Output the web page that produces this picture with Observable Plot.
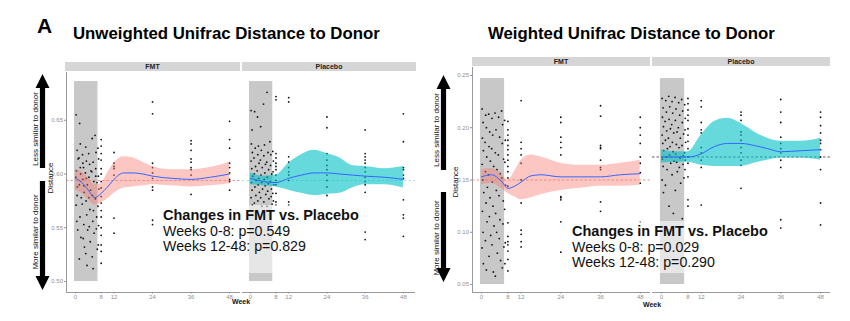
<!DOCTYPE html>
<html>
<head>
<meta charset="utf-8">
<script src="https://cdn.jsdelivr.net/npm/d3@7"></script>
<script src="https://cdn.jsdelivr.net/npm/@observablehq/plot@0.6"></script>
<style>
  html, body { margin: 0; padding: 0; background: #fff; }
  #root { position: relative; width: 850px; height: 321px; overflow: hidden; font-family: "Liberation Sans", Arial, sans-serif; }
  .abs { position: absolute; }
  .title { position: absolute; font-weight: bold; font-size: 16.8px; color: #000; white-space: nowrap; line-height: 1; }
  .strip { position: absolute; background: #d6d6d6; font-weight: bold; font-size: 7px; text-align: center; color: #222; }
  .vtext { position: absolute; transform: translate(-50%, -50%) rotate(-90deg); white-space: nowrap; font-size: 8px; color: #111; }
  .note { position: absolute; white-space: nowrap; font-size: 14.2px; line-height: 15.5px; color: #111; }
  .note b { font-size: 14.5px; }
  .week { position: absolute; font-weight: bold; font-size: 7px; color: #111; }
</style>
</head>
<body>
<div id="root"></div>
<script>
// ---------- data ----------
const facets = ["FMT", "Placebo"];
const weekTicks = [0, 8, 12, 24, 36, 48];
const uwYTicks = [0.50, 0.55, 0.60, 0.65];
const wYTicks = [0.05, 0.10, 0.15, 0.20, 0.25];
const treatmentWindow = [-0.3, 7];

// Unweighted UniFrac – FMT points [week, distance]
const uwFmtPoints = [
  [0.2,0.655],[0.5,0.622],[0.3,0.603],[0.6,0.588],[0.2,0.571],[0.4,0.556],[0.7,0.548],[0.1,0.597],[0.8,0.614],[0.5,0.580],
  [1.3,0.647],[1.5,0.628],[1.1,0.615],[1.6,0.600],[1.2,0.590],[1.8,0.578],[1.4,0.560],[1.7,0.541],[1.2,0.521],[1.5,0.606],
  [2.2,0.618],[2.5,0.606],[2.3,0.595],[2.7,0.583],[2.1,0.572],[2.6,0.553],[2.4,0.540],[2.8,0.532],[2.3,0.610],[2.6,0.589],
  [3.2,0.625],[3.4,0.612],[3.1,0.601],[3.7,0.590],[3.3,0.575],[3.5,0.562],[3.8,0.548],[3.2,0.526],[3.6,0.515],[3.4,0.596],
  [4.1,0.619],[4.4,0.609],[4.2,0.597],[4.7,0.585],[4.5,0.567],[4.3,0.551],[4.6,0.537],[4.8,0.603],[4.2,0.578],
  [5.2,0.633],[5.5,0.611],[5.1,0.602],[5.7,0.593],[5.3,0.580],[5.6,0.566],[5.4,0.556],[5.8,0.545],[5.2,0.523],[5.5,0.512],
  [6.1,0.636],[6.4,0.620],[6.3,0.605],[6.7,0.592],[6.2,0.577],[6.6,0.560],[6.5,0.549],[6.8,0.530],[6.3,0.598],
  [7.0,0.624],[7.2,0.614],[7.1,0.598],[7.3,0.586],[7.0,0.570],[7.2,0.552],[7.1,0.534],
  [8,0.632],[8,0.626],[8,0.619],[8,0.613],[8,0.605],[8,0.600],[8,0.593],[8,0.587],[8,0.579],[8,0.573],[8,0.566],[8,0.560],[8,0.550],[8,0.543],[8,0.534],[8,0.528],[8,0.517],
  [12,0.620],[12,0.610],[12,0.607],[12,0.605],[12,0.599],[12,0.559],[12,0.545],
  [24,0.667],[24,0.656],[24,0.610],[24,0.606],[24,0.601],[24,0.596],[24,0.588],[24,0.585],[24,0.557],[24,0.553],
  [36,0.631],[36,0.628],[36,0.622],[36,0.614],[36,0.611],[36,0.606],[36,0.604],[36,0.599],[36,0.581],
  [48,0.649],[48,0.632],[48,0.624],[48,0.610],[48,0.606],[48,0.601],[48,0.595],[48,0.593],[48,0.585]
];
// Unweighted UniFrac – Placebo points
const uwPlaPoints = [
  [0.2,0.659],[0.5,0.641],[0.3,0.628],[0.6,0.620],[0.2,0.612],[0.4,0.605],[0.7,0.598],[0.3,0.592],[0.5,0.585],[0.2,0.578],[0.6,0.571],
  [1.3,0.658],[1.5,0.624],[1.1,0.615],[1.6,0.607],[1.2,0.600],[1.8,0.594],[1.4,0.588],[1.7,0.580],[1.2,0.573],
  [2.2,0.653],[2.5,0.626],[2.3,0.618],[2.7,0.610],[2.1,0.603],[2.6,0.596],[2.4,0.590],[2.8,0.583],[2.3,0.575],
  [3.2,0.644],[3.4,0.622],[3.1,0.613],[3.7,0.606],[3.3,0.599],[3.5,0.592],[3.8,0.586],[3.2,0.578],[3.6,0.570],
  [4.1,0.665],[4.4,0.627],[4.2,0.617],[4.7,0.609],[4.5,0.601],[4.3,0.595],[4.6,0.589],[4.8,0.581],[4.2,0.574],
  [5.2,0.676],[5.5,0.620],[5.1,0.611],[5.7,0.604],[5.3,0.597],[5.6,0.591],[5.4,0.584],[5.8,0.577],[5.2,0.570],
  [6.1,0.630],[6.4,0.618],[6.3,0.608],[6.7,0.600],[6.2,0.593],[6.6,0.586],[6.5,0.579],[6.8,0.572],
  [7.0,0.621],[7.2,0.612],[7.1,0.602],[7.3,0.590],[7.0,0.582],[7.2,0.575],
  [8,0.672],[8,0.669],[8,0.619],[8,0.615],[8,0.610],[8,0.607],[8,0.604],[8,0.599],[8,0.594],[8,0.590],[8,0.582],[8,0.574],[8,0.571],
  [12,0.671],[12,0.667],[12,0.616],[12,0.611],[12,0.606],[12,0.602],[12,0.599],[12,0.594],[12,0.574],[12,0.571],
  [24,0.653],[24,0.643],[24,0.619],[24,0.613],[24,0.608],[24,0.604],[24,0.599],[24,0.594],[24,0.588],[24,0.580],
  [36,0.641],[36,0.619],[36,0.616],[36,0.613],[36,0.610],[36,0.606],[36,0.602],[36,0.597],[36,0.593],[36,0.590],[36,0.583],[36,0.546],[36,0.539],
  [48,0.656],[48,0.630],[48,0.606],[48,0.604],[48,0.599],[48,0.596],[48,0.576],[48,0.562],[48,0.559],[48,0.542]
];
// Weighted UniFrac – FMT points
const wFmtPoints = [
  [0.2,0.218],[0.5,0.205],[0.3,0.190],[0.6,0.178],[0.2,0.165],[0.4,0.150],[0.7,0.138],[0.3,0.120],[0.5,0.100],[0.2,0.085],[0.6,0.070],
  [1.3,0.212],[1.5,0.200],[1.1,0.186],[1.6,0.172],[1.2,0.158],[1.8,0.143],[1.4,0.128],[1.7,0.110],[1.2,0.092],[1.5,0.064],
  [2.2,0.213],[2.5,0.196],[2.3,0.182],[2.7,0.168],[2.1,0.155],[2.6,0.133],[2.4,0.115],[2.8,0.097],[2.3,0.077],
  [3.2,0.209],[3.4,0.193],[3.1,0.180],[3.7,0.163],[3.3,0.148],[3.5,0.125],[3.8,0.106],[3.2,0.088],[3.6,0.062],
  [4.1,0.214],[4.4,0.198],[4.2,0.176],[4.7,0.160],[4.5,0.140],[4.3,0.118],[4.6,0.100],[4.8,0.080],[4.2,0.058],
  [5.2,0.210],[5.5,0.191],[5.1,0.174],[5.7,0.156],[5.3,0.135],[5.6,0.112],[5.4,0.094],[5.8,0.073],
  [6.1,0.216],[6.4,0.203],[6.3,0.185],[6.7,0.170],[6.2,0.152],[6.6,0.130],[6.5,0.108],[6.8,0.086],[6.3,0.066],
  [7.0,0.207],[7.2,0.188],[7.1,0.167],[7.3,0.145],[7.0,0.122],[7.2,0.090],[7.1,0.070],
  [8,0.206],[8,0.198],[8,0.193],[8,0.188],[8,0.183],[8,0.179],[8,0.174],[8,0.169],[8,0.163],[8,0.158],[8,0.152],[8,0.144],[8,0.109],[8,0.096],[8,0.091],[8,0.088],[8,0.082],[8,0.074],[8,0.063],
  [12,0.226],[12,0.186],[12,0.180],[12,0.174],[12,0.166],[12,0.150],[12,0.128],[12,0.102],[12,0.098],[12,0.091],[12,0.086],
  [24,0.210],[24,0.205],[24,0.191],[24,0.186],[24,0.181],[24,0.174],[24,0.134],[24,0.133],[24,0.131],[24,0.110],[24,0.081],
  [36,0.221],[36,0.211],[36,0.183],[36,0.181],[36,0.180],[36,0.169],[36,0.162],[36,0.160],[36,0.129],[36,0.120],
  [48,0.210],[48,0.200],[48,0.193],[48,0.185],[48,0.172],[48,0.166],[48,0.157],[48,0.147],[48,0.110]
];
// Weighted UniFrac – Placebo points
const wPlaPoints = [
  [0.2,0.228],[0.5,0.219],[0.3,0.210],[0.6,0.201],[0.2,0.193],[0.4,0.185],[0.7,0.178],[0.3,0.170],[0.5,0.163],[0.2,0.150],[0.6,0.138],
  [1.3,0.226],[1.5,0.215],[1.1,0.206],[1.6,0.197],[1.2,0.188],[1.8,0.180],[1.4,0.172],[1.7,0.160],[1.2,0.145],
  [2.2,0.230],[2.5,0.220],[2.3,0.208],[2.7,0.199],[2.1,0.190],[2.6,0.182],[2.4,0.174],[2.8,0.166],[2.3,0.125],
  [3.2,0.225],[3.4,0.214],[3.1,0.203],[3.7,0.195],[3.3,0.186],[3.5,0.177],[3.8,0.168],[3.2,0.155],[3.6,0.118],
  [4.1,0.229],[4.4,0.218],[4.2,0.207],[4.7,0.196],[4.5,0.184],[4.3,0.175],[4.6,0.167],[4.8,0.158],[4.2,0.140],
  [5.2,0.224],[5.5,0.212],[5.1,0.200],[5.7,0.190],[5.3,0.181],[5.6,0.171],[5.4,0.162],[5.8,0.147],
  [6.1,0.227],[6.4,0.216],[6.3,0.205],[6.7,0.194],[6.2,0.183],[6.6,0.173],[6.5,0.165],[6.8,0.152],[6.3,0.113],
  [7.0,0.222],[7.2,0.209],[7.1,0.198],[7.3,0.186],[7.0,0.176],[7.2,0.169],[7.1,0.160],
  [8,0.228],[8,0.223],[8,0.217],[8,0.212],[8,0.207],[8,0.199],[8,0.193],[8,0.187],[8,0.180],[8,0.172],[8,0.166],[8,0.153],[8,0.131],[8,0.125],
  [12,0.226],[12,0.220],[12,0.205],[12,0.198],[12,0.195],[12,0.181],[12,0.176],[12,0.169],[12,0.162],[12,0.126],
  [24,0.215],[24,0.212],[24,0.207],[24,0.196],[24,0.193],[24,0.188],[24,0.181],[24,0.176],[24,0.169],[24,0.164],[24,0.142],
  [36,0.227],[36,0.215],[36,0.205],[36,0.191],[36,0.185],[36,0.180],[36,0.176],[36,0.169],[36,0.162],[36,0.112],[36,0.104],
  [48,0.215],[48,0.210],[48,0.202],[48,0.195],[48,0.188],[48,0.185],[48,0.179],[48,0.172],[48,0.160],[48,0.128],[48,0.107]
];

// Smooth fits: weeks, fit, lower, upper
const uwFmtFitWeeks = [0,2,4,6,8,10,12,15,18,21,24,30,36,42,48];
const uwFmtFit = [0.596,0.592,0.585,0.578,0.582,0.588,0.595,0.601,0.601,0.600,0.598,0.596,0.595,0.597,0.600];
const uwFmtLo  = [0.585,0.582,0.576,0.571,0.573,0.577,0.582,0.587,0.588,0.589,0.590,0.589,0.588,0.589,0.591];
const uwFmtHi  = [0.604,0.602,0.596,0.590,0.591,0.601,0.610,0.616,0.615,0.611,0.607,0.604,0.604,0.606,0.611];

const uwPlaFitWeeks = [0,4,8,12,16,20,24,28,32,36,42,48];
const uwPlaFit = [0.596,0.593,0.592,0.596,0.599,0.601,0.601,0.600,0.599,0.598,0.597,0.595];
const uwPlaLo  = [0.590,0.589,0.588,0.585,0.582,0.580,0.581,0.582,0.587,0.590,0.590,0.587];
const uwPlaHi  = [0.601,0.598,0.599,0.610,0.618,0.622,0.619,0.615,0.608,0.607,0.605,0.607];

const wFmtFitWeeks = [0,3,6,8,10,12,15,18,24,30,36,42,48];
const wFmtFit = [0.153,0.155,0.149,0.142,0.144,0.148,0.154,0.155,0.153,0.153,0.153,0.155,0.156];
const wFmtLo  = [0.145,0.147,0.142,0.137,0.134,0.131,0.133,0.136,0.140,0.142,0.144,0.144,0.145];
const wFmtHi  = [0.160,0.161,0.156,0.150,0.158,0.169,0.174,0.172,0.166,0.164,0.164,0.166,0.169];

const wPlaFitWeeks = [0,4,8,12,16,20,24,28,32,36,42,48];
const wPlaFit = [0.172,0.172,0.172,0.175,0.182,0.185,0.185,0.183,0.180,0.177,0.178,0.179];
const wPlaLo  = [0.166,0.167,0.167,0.164,0.163,0.163,0.163,0.166,0.169,0.171,0.171,0.169];
const wPlaHi  = [0.179,0.177,0.177,0.193,0.206,0.209,0.204,0.196,0.190,0.187,0.187,0.190];

// Baselines (dashed reference lines)
const uwBaseline = [0.594, 0.594];
const wBaseline = [0.150, 0.172];

// Annotation texts
const panelTitles = ["Unweighted Unifrac Distance to Donor", "Weighted Unifrac Distance to Donor"];
const noteHead = "Changes in FMT vs. Placebo";
const uwNotes = ["Weeks 0-8: p=0.549", "Weeks 12-48: p=0.829"];
const wNotes = ["Weeks 0-8: p=0.029", "Weeks 12-48: p=0.290"];

// ---------- drawing ----------
const root = document.getElementById("root");
const FMT_COL = "#F8766D", PLA_COL = "#00BFC4", LINE_COL = "#3366FF";

function band(weeks, fit, lo, hi) {
  return weeks.map((w, i) => ({w, fit: fit[i], lo: lo[i], hi: hi[i]}));
}
function pts(arr) { return arr.map(([w, v]) => ({w, v})); }

function facetPlot(o) {
  const marks = [
    Plot.rect([treatmentWindow], {x1: d => d[0], x2: d => d[1], y1: o.rectY[0], y2: o.rectY[1], fill: "#bcbcbc", fillOpacity: 0.82}),
    Plot.ruleY([o.base], {stroke: o.baseColor, strokeDasharray: "2.5,2", strokeWidth: 0.8}),
    Plot.dot(o.points, {x: "w", y: "v", r: 0.9, fill: "#111", stroke: null}),
    Plot.areaY(o.smooth, {x: "w", y1: "lo", y2: "hi", fill: o.color, fillOpacity: o.bandOpacity, curve: "monotone-x"}),
    Plot.line(o.smooth, {x: "w", y: "fit", stroke: LINE_COL, strokeWidth: 1, curve: "monotone-x"}),
    Plot.ruleY([o.yDomain[0]], {stroke: "#9a9a9a", strokeWidth: 1}),
    Plot.axisX({ticks: weekTicks, tickSize: 1.5, tickPadding: 1, fontSize: 6, color: "#909090", label: null, tickFormat: d => String(d)})
  ];
  if (o.showY) {
    marks.push(Plot.ruleX([o.xDomain[0]], {stroke: "#9a9a9a", strokeWidth: 1}));
    marks.push(Plot.axisY({ticks: o.yTicks, tickSize: 2, tickPadding: 1.5, fontSize: 6, color: "#909090", label: null, tickFormat: d => d.toFixed(2)}));
  }
  const svg = Plot.plot({
    width: o.width, height: o.height,
    marginLeft: o.marginLeft, marginRight: 0, marginTop: 0, marginBottom: o.marginBottom,
    x: {domain: o.xDomain},
    y: o.showY ? {domain: o.yDomain} : {domain: o.yDomain, axis: null},
    style: {background: "transparent", overflow: "visible", fontFamily: "'Liberation Sans', Arial, sans-serif"},
    marks
  });
  svg.style.position = "absolute";
  svg.style.left = o.left + "px";
  svg.style.top = o.top + "px";
  root.appendChild(svg);
}

// Left panel (unweighted)
const uwYDomain = [0.4898, 0.6944];
facetPlot({left: 26, top: 72, width: 214, height: 235, marginLeft: 40, marginBottom: 15,
  xDomain: [-2.8, 51.4], yDomain: uwYDomain, yTicks: uwYTicks, showY: true,
  rectY: [0.500, 0.686], base: uwBaseline[0], baseColor: FMT_COL,
  points: pts(uwFmtPoints), smooth: band(uwFmtFitWeeks, uwFmtFit, uwFmtLo, uwFmtHi), color: FMT_COL, bandOpacity: 0.42});
facetPlot({left: 242, top: 72, width: 173, height: 235, marginLeft: 0, marginBottom: 15,
  xDomain: [-2.5, 51.8], yDomain: uwYDomain, yTicks: uwYTicks, showY: false,
  rectY: [0.500, 0.686], base: uwBaseline[1], baseColor: "#9fd9e0",
  points: pts(uwPlaPoints), smooth: band(uwPlaFitWeeks, uwPlaFit, uwPlaLo, uwPlaHi), color: PLA_COL, bandOpacity: 0.6});

// Right panel (weighted)
const wYDomain = [0.0424, 0.2576];
facetPlot({left: 432, top: 67, width: 218, height: 240, marginLeft: 40, marginBottom: 15,
  xDomain: [-2.7, 51.1], yDomain: wYDomain, yTicks: wYTicks, showY: true,
  rectY: [0.050, 0.247], base: wBaseline[0], baseColor: FMT_COL,
  points: pts(wFmtPoints), smooth: band(wFmtFitWeeks, wFmtFit, wFmtLo, wFmtHi), color: FMT_COL, bandOpacity: 0.42});
facetPlot({left: 652, top: 67, width: 178, height: 240, marginLeft: 0, marginBottom: 15,
  xDomain: [-2.7, 51.0], yDomain: wYDomain, yTicks: wYTicks, showY: false,
  rectY: [0.050, 0.247], base: wBaseline[1], baseColor: "#333",
  points: pts(wPlaPoints), smooth: band(wPlaFitWeeks, wPlaFit, wPlaLo, wPlaHi), color: PLA_COL, bandOpacity: 0.6});

// ---------- decorations (text, strips, arrows) ----------
function add(html) { root.insertAdjacentHTML("beforeend", html); }

add(`<div class="title" style="left:37px;top:15px;font-size:21px;">A</div>`);
add(`<div class="title" style="left:73px;top:26px;">${panelTitles[0]}</div>`);
add(`<div class="title" style="left:488px;top:26px;">${panelTitles[1]}</div>`);

// strips
add(`<div class="strip" style="left:65px;top:62px;width:175px;height:9px;line-height:9px;">${facets[0]}</div>`);
add(`<div class="strip" style="left:242px;top:62px;width:174px;height:9px;line-height:9px;">${facets[1]}</div>`);
add(`<div class="strip" style="left:472px;top:57px;width:178px;height:9px;line-height:9px;">${facets[0]}</div>`);
add(`<div class="strip" style="left:652px;top:57px;width:178px;height:9px;line-height:9px;">${facets[1]}</div>`);

// week labels
add(`<div class="week" style="left:232px;top:298px;">Week</div>`);
add(`<div class="week" style="left:643px;top:301px;">Week</div>`);

// arrows + side labels
function arrows(x, upTop, upBottom, downTop, downBottom) {
  const hw = 7, hh = 14, sw = 2.6;
  add(`<svg class="abs" style="left:0;top:0;" width="850" height="321">
    <polygon fill="#000" points="${x},${upTop} ${x+hw},${upTop+hh} ${x+sw},${upTop+hh} ${x+sw},${upBottom} ${x-sw},${upBottom} ${x-sw},${upTop+hh} ${x-hw},${upTop+hh}"/>
    <polygon fill="#000" points="${x},${downBottom} ${x+hw},${downBottom-hh} ${x+sw},${downBottom-hh} ${x+sw},${downTop} ${x-sw},${downTop} ${x-sw},${downBottom-hh} ${x-hw},${downBottom-hh}"/>
  </svg>`);
}
arrows(42.5, 74, 168, 181, 290);
arrows(443.5, 75, 170, 192, 282);
add(`<div class="vtext" style="left:35px;top:129px;">Less similar to donor</div>`);
add(`<div class="vtext" style="left:35px;top:232px;">More similar to donor</div>`);
add(`<div class="vtext" style="left:50px;top:178px;">Distance</div>`);
add(`<div class="vtext" style="left:436px;top:130px;">Less similar to donor</div>`);
add(`<div class="vtext" style="left:436px;top:238px;">More similar to donor</div>`);
add(`<div class="vtext" style="left:455px;top:182px;">Distance</div>`);

// annotation boxes
add(`<div class="abs" style="left:158px;top:205px;width:205px;height:68px;background:rgba(255,255,255,0.55);"></div>`);
add(`<div class="abs" style="left:566px;top:221px;width:180px;height:52px;background:rgba(255,255,255,0.55);"></div>`);
add(`<div class="note" style="left:163px;top:208px;"><b>${noteHead}</b><br>${uwNotes[0]}<br>${uwNotes[1]}</div>`);
add(`<div class="note" style="left:572px;top:224px;"><b>${noteHead}</b><br>${wNotes[0]}<br>${wNotes[1]}</div>`);
</script>
</body>
</html>
